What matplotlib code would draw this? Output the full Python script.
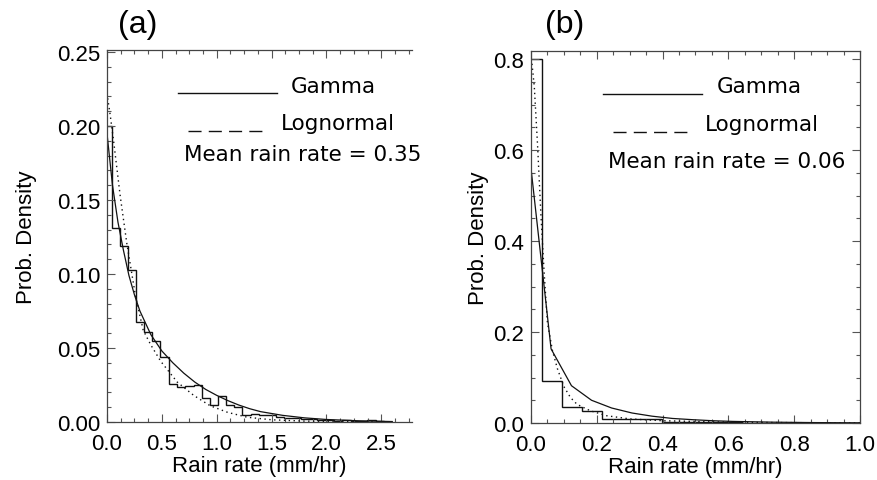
import numpy as np
import matplotlib
matplotlib.use("Agg")
import matplotlib.pyplot as plt
from matplotlib.ticker import MultipleLocator, FormatStrFormatter

plt.rcParams['font.family'] = ['Liberation Sans', 'DejaVu Sans']

W, H = 878, 481

# ---- panel (a) data ----
a_edges = [0.0, 0.046, 0.116, 0.192, 0.265, 0.335, 0.411, 0.487, 0.563, 0.639,
           0.715, 0.791, 0.867, 0.943, 1.013, 1.086, 1.156, 1.232, 1.308, 1.384,
           1.460, 1.536, 1.612, 1.688, 1.764, 1.840, 1.916, 1.992, 2.068, 2.144,
           2.220, 2.296, 2.372, 2.448, 2.524]
a_hist = [0.200, 0.131, 0.119, 0.103, 0.0675, 0.061, 0.055, 0.044, 0.0256, 0.0236,
          0.024, 0.025, 0.016, 0.0117, 0.0178, 0.0117, 0.010, 0.0045, 0.0056, 0.0045,
          0.005, 0.0035, 0.003, 0.0025, 0.002, 0.002, 0.0015, 0.0015, 0.001, 0.0015,
          0.001, 0.001, 0.0012, 0.0005]
a_gamma_x = [0.0, 0.05, 0.10, 0.15, 0.20, 0.25, 0.30, 0.40, 0.50, 0.60, 0.70, 0.80,
             0.90, 1.00, 1.10, 1.20, 1.30, 1.40, 1.60, 1.80, 2.00, 2.30, 2.60]
a_gamma_y = [0.195, 0.160, 0.135, 0.116, 0.099, 0.086, 0.075, 0.059, 0.048, 0.040,
             0.033, 0.027, 0.022, 0.018, 0.0145, 0.0115, 0.0090, 0.0070, 0.0045,
             0.0028, 0.0017, 0.0008, 0.0003]
a_logn_x = [0.0, 0.03, 0.06, 0.12, 0.18, 0.26, 0.33, 0.40, 0.49, 0.64, 0.79, 0.94,
            1.10, 1.28, 1.50, 1.80, 2.20, 2.60]
a_logn_y = [0.222, 0.207, 0.190, 0.153, 0.121, 0.085, 0.062, 0.052, 0.041, 0.027,
            0.018, 0.011, 0.0065, 0.0032, 0.0015, 0.0006, 0.0002, 0.0001]

# ---- panel (b) data ----
b_edges = [0.0, 0.032, 0.093, 0.154, 0.215, 0.276, 0.337, 0.398, 0.459, 0.520,
           0.581, 0.642, 0.703, 0.764, 0.825, 0.886, 0.947, 1.0]
b_hist = [0.80, 0.093, 0.035, 0.026, 0.0095, 0.009, 0.0085, 0.003, 0.0025, 0.002,
          0.0015, 0.001, 0.001, 0.0008, 0.0005, 0.0005, 0.0003]
b_gamma_x = [0.0, 0.061, 0.123, 0.184, 0.245, 0.307, 0.368, 0.430, 0.491, 0.552,
             0.614, 0.737, 0.860, 1.0]
b_gamma_y = [0.56, 0.163, 0.082, 0.050, 0.033, 0.022, 0.015, 0.010, 0.0073, 0.005,
             0.0035, 0.0018, 0.0009, 0.0004]
b_logn_x = [0.003, 0.01, 0.02, 0.03, 0.04, 0.05, 0.065, 0.08, 0.10, 0.12, 0.14,
            0.18, 0.23, 0.30, 0.40, 0.55, 0.70, 0.85, 1.0]
b_logn_y = [0.79, 0.74, 0.61, 0.46, 0.33, 0.22, 0.16, 0.12, 0.08, 0.056, 0.041,
            0.027, 0.016, 0.009, 0.005, 0.0025, 0.0012, 0.0006, 0.0003]

panels = [
    dict(tag="(a)", mean="Mean rain rate = 0.35", edges=a_edges, hist=a_hist,
         gx=a_gamma_x, gy=a_gamma_y, lx=a_logn_x, ly=a_logn_y,
         box=(107, 412, 51, 423), xlim=(0, 2.78), ylim=(0, 0.2514), right=False,
         xmaj=0.5, xmin=0.125, ymaj=0.05, ymin=0.01, yfmt="%.2f",
         leg=dict(gl=(178, 277, 94), gt=(291, 93), ll=(188, 264, 132), lt=(281, 130),
                  mt=(184, 161), tag=(118, 33), ylab=27)),
    dict(tag="(b)", mean="Mean rain rate = 0.06", edges=b_edges, hist=b_hist,
         gx=b_gamma_x, gy=b_gamma_y, lx=b_logn_x, ly=b_logn_y,
         box=(531, 860, 52, 424), xlim=(0, 1.0), ylim=(0, 0.818), right=True,
         xmaj=0.2, xmin=0.05, ymaj=0.2, ymin=0.05, yfmt="%.1f",
         leg=dict(gl=(603, 702, 95), gt=(717, 93), ll=(613, 690, 133), lt=(705, 131),
                  mt=(608, 168), tag=(545, 33), ylab=479)),
]

fig = plt.figure(figsize=(W / 100, H / 100), dpi=100)
FS = 16
LEG_FONT = dict(fontsize=15.5, family=["DejaVu Sans"], va="baseline")
ink = "#111111"


def fx(px):
    return px / W


def fy(py):
    return 1 - py / H


for p in panels:
    l, r, t, b = p["box"]
    ax = fig.add_axes([fx(l), fy(b), fx(r) - fx(l), fy(t) - fy(b)])
    ax.stairs(p["hist"], p["edges"], color=ink, lw=1.0, baseline=None)
    ax.plot(p["gx"], p["gy"], color=ink, lw=0.9)
    ax.plot(p["lx"], p["ly"], color=ink, lw=1.0, ls=(0, (1, 2.5)))
    ax.set_xlim(*p["xlim"])
    ax.set_ylim(*p["ylim"])
    ax.xaxis.set_major_locator(MultipleLocator(p["xmaj"]))
    ax.xaxis.set_minor_locator(MultipleLocator(p["xmin"]))
    ax.yaxis.set_major_locator(MultipleLocator(p["ymaj"]))
    ax.yaxis.set_minor_locator(MultipleLocator(p["ymin"]))
    ax.yaxis.set_major_formatter(FormatStrFormatter(p["yfmt"]))
    ax.xaxis.set_major_formatter(FormatStrFormatter("%.1f"))
    ax.tick_params(which="both", direction="in", top=True, right=p["right"],
                   color="#555555", width=0.8)
    ax.tick_params(which="major", length=6, labelsize=FS)
    ax.tick_params(axis="x", which="major", pad=8)
    ax.tick_params(axis="y", which="major", pad=5)
    ax.tick_params(which="minor", length=3)
    for s in ax.spines.values():
        s.set_linewidth(0.9)
        s.set_color("#444444")
    ax.spines["right"].set_visible(p["right"])
    ax.set_xlabel("Rain rate (mm/hr)", fontsize=FS, labelpad=1)

    g = p["leg"]
    fig.add_artist(plt.Line2D([fx(g["gl"][0]), fx(g["gl"][1])], [fy(g["gl"][2])] * 2,
                              color=ink, lw=1.0))
    fig.text(fx(g["gt"][0]), fy(g["gt"][1]), "Gamma", **LEG_FONT)
    fig.add_artist(plt.Line2D([fx(g["ll"][0]), fx(g["ll"][1])], [fy(g["ll"][2])] * 2,
                              color=ink, lw=1.0, ls=(0, (9.4, 5.2))))
    fig.text(fx(g["lt"][0]), fy(g["lt"][1]), "Lognormal", **LEG_FONT)
    fig.text(fx(g["mt"][0]), fy(g["mt"][1]), p["mean"], **LEG_FONT)
    fig.text(fx(g["tag"][0]), fy(g["tag"][1]), p["tag"], fontsize=23, va="baseline")
    fig.text(fx(g["ylab"]), (fy(t) + fy(b)) / 2, "Prob. Density", fontsize=FS,
             rotation=90, ha="center", va="center")

fig.savefig("out.png", dpi=100)
